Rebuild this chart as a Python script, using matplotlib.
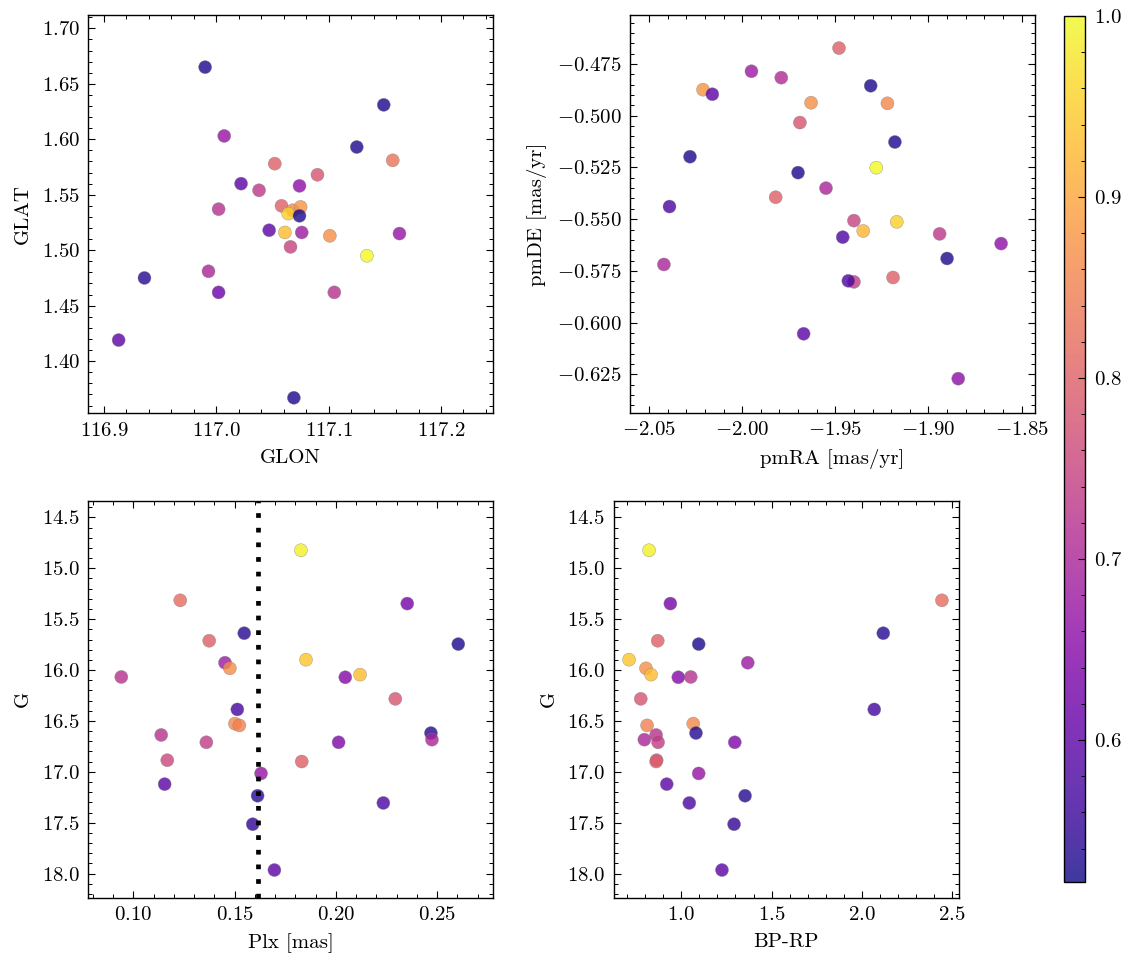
import numpy as np
import matplotlib
matplotlib.use("Agg")
import matplotlib.pyplot as plt
from matplotlib.ticker import AutoMinorLocator

# ---------------- data ----------------
# sky positions (top-left)
glon = [116.990, 117.149, 117.007, 117.125, 117.157, 117.052, 117.090, 117.022,
        117.074, 117.038, 117.058, 117.068, 117.075, 117.002, 117.064, 117.074,
        117.047, 117.061, 117.076, 117.163, 117.101, 117.066, 117.134, 116.993,
        116.936, 117.002, 117.105, 116.913, 117.069]
glat = [1.665, 1.631, 1.603, 1.593, 1.581, 1.578, 1.568, 1.560,
        1.558, 1.554, 1.540, 1.536, 1.539, 1.537, 1.533, 1.531,
        1.518, 1.516, 1.516, 1.515, 1.513, 1.503, 1.495, 1.481,
        1.475, 1.462, 1.462, 1.419, 1.367]
prob_sky = [0.53, 0.53, 0.67, 0.53, 0.83, 0.80, 0.78, 0.60,
            0.66, 0.73, 0.80, 0.86, 0.88, 0.72, 0.95, 0.53,
            0.60, 0.93, 0.68, 0.67, 0.87, 0.75, 1.00, 0.70,
            0.54, 0.62, 0.72, 0.60, 0.53]

# proper motions (top-right)
pmra = [-1.948, -1.995, -1.979, -1.931, -2.021, -2.016, -1.963, -1.922,
        -1.969, -1.918, -2.028, -1.928, -1.970, -1.955, -1.982, -2.039,
        -1.940, -1.917, -1.935, -1.894, -1.946, -1.861, -1.890, -2.042,
        -1.919, -1.940, -1.943, -1.967, -1.884]
pmde = [-0.4673, -0.4785, -0.4816, -0.4855, -0.4874, -0.4896, -0.4937, -0.4940,
        -0.5033, -0.5127, -0.5198, -0.5251, -0.5275, -0.5350, -0.5394, -0.5439,
        -0.5507, -0.5513, -0.5557, -0.5571, -0.5587, -0.5618, -0.5690, -0.5719,
        -0.5782, -0.5803, -0.5798, -0.6054, -0.6271]
prob_pm = [0.80, 0.68, 0.71, 0.53, 0.88, 0.60, 0.87, 0.86,
           0.78, 0.53, 0.53, 1.00, 0.53, 0.70, 0.80, 0.58,
           0.75, 0.95, 0.92, 0.73, 0.58, 0.66, 0.53, 0.70,
           0.80, 0.74, 0.58, 0.60, 0.66]

# photometry / parallax (bottom row, same stars)
plx = [0.1828, 0.1232, 0.2353, 0.1548, 0.2605, 0.1375, 0.1853, 0.1453,
       0.1477, 0.0941, 0.2047, 0.2120, 0.2294, 0.1514, 0.1502, 0.1524,
       0.1138, 0.1361, 0.2014, 0.2470, 0.2475, 0.1168, 0.1832, 0.1631,
       0.1155, 0.1614, 0.2235, 0.1590, 0.1697]
gmag = [14.823, 15.315, 15.347, 15.638, 15.745, 15.712, 15.898, 15.928,
        15.983, 16.068, 16.071, 16.045, 16.283, 16.387, 16.527, 16.544,
        16.638, 16.710, 16.710, 16.619, 16.684, 16.886, 16.899, 17.016,
        17.121, 17.235, 17.306, 17.515, 17.965]
bp_rp = [0.821, 2.444, 0.939, 2.119, 1.096, 0.869, 0.710, 1.368,
         0.804, 1.052, 0.983, 0.832, 0.775, 2.069, 1.066, 0.810,
         0.860, 0.871, 1.296, 1.081, 0.795, 0.863, 0.860, 1.096,
         0.919, 1.353, 1.044, 1.292, 1.225]
prob_phot = [0.99, 0.82, 0.63, 0.54, 0.53, 0.80, 0.94, 0.68,
             0.87, 0.72, 0.65, 0.93, 0.78, 0.57, 0.86, 0.85,
             0.72, 0.74, 0.64, 0.54, 0.70, 0.76, 0.80, 0.67,
             0.60, 0.54, 0.58, 0.55, 0.60]

plx_mean = 0.1614
prob_min, prob_max = 0.5215, 1.0
cbar_ticks = [0.6, 0.7, 0.8, 0.9, 1.0]

# ---------------- style ----------------
plt.rcParams.update({
    "font.family": "serif",
    "font.serif": ["cmr10"],
    "mathtext.fontset": "cm",
    "axes.formatter.use_mathtext": True,
    "axes.unicode_minus": True,
    "font.size": 15,
    "axes.linewidth": 1.0,
    "xtick.direction": "in", "ytick.direction": "in",
    "xtick.top": True, "ytick.right": True,
    "xtick.major.size": 5, "ytick.major.size": 5,
    "xtick.minor.size": 2.8, "ytick.minor.size": 2.8,
    "xtick.major.width": 0.8, "ytick.major.width": 0.8,
    "xtick.minor.width": 0.7, "ytick.minor.width": 0.7,
    "xtick.major.pad": 6, "ytick.major.pad": 6,
    "xtick.minor.visible": True, "ytick.minor.visible": True,
    "xtick.labelsize": 15, "ytick.labelsize": 15,
    "axes.labelsize": 15,
    "axes.labelpad": 7,
})

W, H = 1133, 965
fig = plt.figure(figsize=(W / 100, H / 100), dpi=100)

def box(l, t, r, b):
    return [l / W, (H - b) / H, (r - l) / W, (b - t) / H]

ax1 = fig.add_axes(box(88.3, 15, 492.7, 413.3))
ax2 = fig.add_axes(box(630, 15, 1035, 413))
ax3 = fig.add_axes(box(88.3, 500.5, 492.7, 897.5))
ax4 = fig.add_axes(box(613.7, 500.5, 958.7, 897.5))
cax = fig.add_axes(box(1064.3, 16, 1085.3, 882))

cmap = plt.get_cmap("plasma")
kw = dict(cmap=cmap, vmin=prob_min, vmax=prob_max, s=88, alpha=0.8,
          edgecolors="grey", linewidths=0.3)

sc = ax1.scatter(glon, glat, c=prob_sky, **kw)
ax1.set_xlim(116.886, 117.246)
ax1.set_ylim(1.353, 1.712)
ax1.set_xlabel("GLON")
ax1.set_ylabel("GLAT")
ax1.set_xticks([116.9, 117.0, 117.1, 117.2])

ax2.scatter(pmra, pmde, c=prob_pm, **kw)
ax2.set_xlim(-2.0602, -1.8428)
ax2.set_ylim(-0.6437, -0.4513)
ax2.set_xlabel("pmRA [mas/yr]")
ax2.set_ylabel("pmDE [mas/yr]")
ax2.set_yticks([-0.625, -0.600, -0.575, -0.550, -0.525, -0.500, -0.475])

ax3.scatter(plx, gmag, c=prob_phot, **kw)
ax3.axvline(plx_mean, color="k", lw=3.4, linestyle=(0, (1, 2.1)), zorder=1)
ax3.set_xlim(0.0778, 0.2775)
ax3.set_ylim(18.235, 14.334)
ax3.set_xlabel("Plx [mas]")
ax3.set_ylabel("G")

ax4.scatter(bp_rp, gmag, c=prob_phot, **kw)
ax4.set_xlim(0.625, 2.537)
ax4.set_ylim(18.235, 14.334)
ax4.set_xlabel("BP-RP")
ax4.set_ylabel("G")

for ax in (ax1, ax2, ax3, ax4):
    ax.xaxis.set_minor_locator(AutoMinorLocator())
    ax.yaxis.set_minor_locator(AutoMinorLocator())

cb = fig.colorbar(sc, cax=cax)
cb.set_ticks(cbar_ticks)
cb.ax.yaxis.set_minor_locator(AutoMinorLocator(5))
cb.ax.tick_params(which="both", direction="in")
cb.outline.set_linewidth(1.0)

fig.savefig("out.png", dpi=100)
